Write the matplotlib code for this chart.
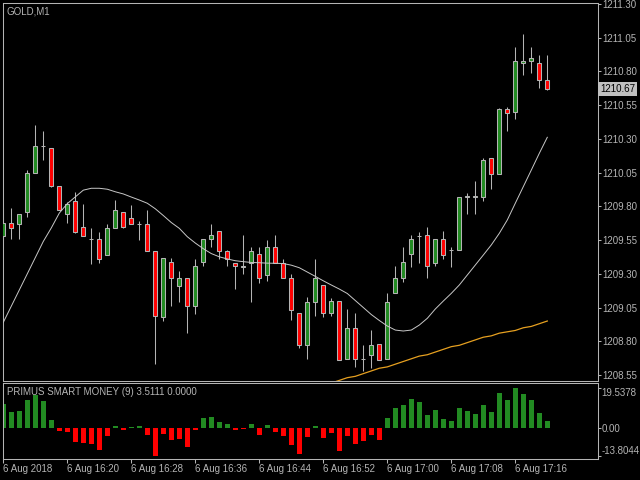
import numpy as np
import matplotlib.pyplot as plt

plt.rcParams['font.family'] = ['Liberation Sans', 'DejaVu Sans']

# GOLD M1 bars, 6 Aug 2018 16:12 .. 17:20
opens = [1209.58, 1209.68, 1209.67, 1209.76, 1210.05, 1210.25, 1210.23, 1209.95, 1209.74, 1209.84,
         1209.65, 1209.56, 1209.56, 1209.44, 1209.64, 1209.76, 1209.71, 1209.67, 1209.67, 1209.47,
         1208.98, 1209.39, 1209.21, 1209.27, 1209.06, 1209.39, 1209.56, 1209.62, 1209.47, 1209.38,
         1209.35, 1209.38, 1209.45, 1209.29, 1209.50, 1209.38, 1209.27, 1209.01, 1208.77, 1209.09,
         1209.22, 1209.01, 1209.10, 1208.67, 1208.90, 1208.67, 1208.70, 1208.78, 1208.67, 1209.16,
         1209.27, 1209.45, 1209.58, 1209.59, 1209.38, 1209.56, 1209.48, 1209.48, 1209.87, 1209.87,
         1209.87, 1210.16, 1210.04, 1210.52, 1210.50, 1210.86, 1210.88, 1210.86, 1210.74]
highs = [1209.79, 1209.79, 1209.74, 1210.07, 1210.40, 1210.36, 1210.23, 1209.95, 1209.83, 1209.91,
         1209.82, 1209.64, 1209.61, 1209.67, 1209.85, 1209.76, 1209.81, 1209.69, 1209.77, 1209.47,
         1209.42, 1209.42, 1209.32, 1209.27, 1209.41, 1209.56, 1209.67, 1209.62, 1209.48, 1209.38,
         1209.59, 1209.50, 1209.50, 1209.55, 1209.59, 1209.41, 1209.30, 1209.01, 1209.13, 1209.41,
         1209.22, 1209.12, 1209.10, 1209.04, 1209.01, 1208.77, 1208.88, 1208.78, 1209.16, 1209.36,
         1209.50, 1209.59, 1209.61, 1209.65, 1209.56, 1209.62, 1209.50, 1209.87, 1209.90, 1209.99,
         1210.16, 1210.16, 1210.53, 1210.54, 1210.98, 1211.08, 1210.98, 1210.92, 1210.92]
lows = [1209.55, 1209.56, 1209.56, 1209.72, 1210.05, 1210.14, 1209.94, 1209.77, 1209.68, 1209.60,
        1209.58, 1209.37, 1209.38, 1209.44, 1209.64, 1209.64, 1209.67, 1209.55, 1209.47, 1208.63,
        1208.95, 1209.06, 1209.09, 1208.86, 1209.00, 1209.36, 1209.50, 1209.41, 1209.36, 1209.19,
        1209.30, 1209.09, 1209.23, 1209.25, 1209.38, 1209.27, 1208.96, 1208.75, 1208.67, 1208.99,
        1208.98, 1208.99, 1208.66, 1208.67, 1208.61, 1208.58, 1208.60, 1208.66, 1208.67, 1209.16,
        1209.24, 1209.35, 1209.38, 1209.27, 1209.36, 1209.41, 1209.35, 1209.48, 1209.74, 1209.74,
        1209.84, 1209.93, 1210.04, 1210.36, 1210.45, 1210.77, 1210.79, 1210.68, 1210.66]
closes = [1209.68, 1209.64, 1209.74, 1210.05, 1210.25, 1210.25, 1209.95, 1209.77, 1209.82, 1209.61,
          1209.58, 1209.56, 1209.41, 1209.64, 1209.77, 1209.65, 1209.67, 1209.67, 1209.47, 1208.99,
          1209.42, 1209.27, 1209.27, 1209.06, 1209.36, 1209.56, 1209.59, 1209.47, 1209.41, 1209.36,
          1209.36, 1209.47, 1209.27, 1209.50, 1209.38, 1209.27, 1209.03, 1208.77, 1209.09, 1209.27,
          1209.01, 1209.10, 1208.66, 1208.90, 1208.67, 1208.67, 1208.77, 1208.66, 1209.09, 1209.27,
          1209.39, 1209.56, 1209.58, 1209.36, 1209.56, 1209.44, 1209.48, 1209.87, 1209.88, 1209.88,
          1210.14, 1210.04, 1210.52, 1210.49, 1210.88, 1210.88, 1210.90, 1210.74, 1210.67]

# moving averages as shown on the chart
ma_fast = [1208.94, 1209.06, 1209.18, 1209.30, 1209.42, 1209.54, 1209.64, 1209.75, 1209.82, 1209.87,
           1209.92, 1209.934, 1209.934, 1209.927, 1209.908, 1209.892, 1209.869, 1209.847, 1209.823, 1209.782,
           1209.732, 1209.680, 1209.637, 1209.575, 1209.528, 1209.486, 1209.450, 1209.426, 1209.410, 1209.397,
           1209.390, 1209.384, 1209.382, 1209.379, 1209.378, 1209.376, 1209.364, 1209.345, 1209.313, 1209.281,
           1209.248, 1209.217, 1209.187, 1209.154, 1209.102, 1209.050, 1208.998, 1208.954, 1208.913, 1208.883,
           1208.876, 1208.883, 1208.920, 1208.970, 1209.039, 1209.098, 1209.155, 1209.217, 1209.291, 1209.365,
           1209.439, 1209.514, 1209.600, 1209.699, 1209.823, 1209.946, 1210.069, 1210.193, 1210.312]
slow_start = 41
ma_slow = [1208.49, 1208.51, 1208.53, 1208.54, 1208.56, 1208.58, 1208.60, 1208.61, 1208.63, 1208.65,
           1208.67, 1208.69, 1208.70, 1208.72, 1208.74, 1208.76, 1208.77, 1208.79, 1208.81, 1208.83,
           1208.84, 1208.86, 1208.87, 1208.88, 1208.90, 1208.91, 1208.93, 1208.95]

# PRIMUS SMART MONEY (9)
smart_money = [11.6, 7.7, 8.2, 13.6, 15.8, 13.2, 3.8, -1.6, -2.1, -7.0,
               -7.5, -7.8, -10.9, -4.1, 1.0, -1.1, 0.3, 0.8, -3.6, -13.8044,
               -3.1, -6.0, -5.6, -9.5, -1.1, 4.9, 5.2, 2.8, 1.8, -1.0,
               -0.7, 1.8, -3.6, 1.3, -2.1, -4.1, -8.5, -12.7, -4.6, 0.8,
               -4.9, -2.5, -11.3, -3.9, -7.8, -6.5, -3.4, -6.0, 4.7, 9.6,
               11.1, 14.1, 12.6, 6.2, 8.7, 4.2, 3.3, 9.6, 8.2, 6.7,
               11.1, 7.7, 17.0, 13.6, 19.5378, 16.5, 13.6, 7.2, 3.5111]

price_ticks = [1211.30, 1211.05, 1210.80, 1210.55, 1210.30, 1210.05,
               1209.80, 1209.55, 1209.30, 1209.05, 1208.80, 1208.55]
time_pos = [0, 8, 16, 24, 32, 40, 48, 56, 64]
time_labels = ['6 Aug 2018', '6 Aug 16:20', '6 Aug 16:28', '6 Aug 16:36', '6 Aug 16:44',
               '6 Aug 16:52', '6 Aug 17:00', '6 Aug 17:08', '6 Aug 17:16']
last_price = 1210.67

fg = '#b4b4b4'
green = '#228b22'
red = '#ff0000'

o = np.array(opens)
c = np.array(closes)
x = np.arange(len(o))
up = c >= o

fig = plt.figure(figsize=(6.4, 4.8), dpi=100, facecolor='black')
ax = fig.add_axes([2.7/640, 1 - 380.7/480, 595/640, 378/480], facecolor='black')
ax2 = fig.add_axes([2.7/640, 1 - 459/480, 595/640, 75.7/480], facecolor='black')

# candles
ax.vlines(x, lows, highs, color=fg, lw=0.75, zorder=2)
ax.bar(x, np.abs(c - o), bottom=np.minimum(o, c), width=0.5,
       color=[green if u else red for u in up], edgecolor=fg, linewidth=0.75, zorder=3)
ax.plot(x, ma_fast, color='#c8c8c8', lw=0.7, zorder=4)
ax.plot(x[slow_start:], ma_slow, color='#e6a020', lw=0.9, zorder=4)

ax.set_xlim(-0.075, 74.3)
ax.set_ylim(1208.5076, 1211.3096)
ax.set_xticks([])
ax.yaxis.tick_right()
ax.set_yticks(price_ticks)
ax.set_yticklabels([f'{p:.2f}' for p in price_ticks])
ax.tick_params(axis='y', colors=fg, labelcolor=fg, length=2, width=0.75, pad=1, labelsize=7)
ax.annotate(f'{last_price:.2f}', xy=(1.0, last_price), xycoords=('axes fraction', 'data'),
            xytext=(1.6, 0), textcoords='offset points', va='center', ha='left', fontsize=7,
            color='black', bbox=dict(boxstyle='square,pad=0.18', fc='#c0c0c0', ec='none'))
ax.text(0.007, 0.977, 'GOLD,M1', transform=ax.transAxes, color=fg, fontsize=7, va='center')

# indicator pane
sm = np.array(smart_money)
ax2.bar(x, sm, width=0.6, color=[green if v >= 0 else red for v in sm])
ax2.set_xlim(-0.075, 74.3)
ax2.set_ylim(-15.34, 21.76)
ax2.yaxis.tick_right()
ax2.set_yticks([19.5378, 0, -13.8044])
ax2.set_yticklabels(['19.5378', '0.00', '-13.8044'])
ax2.get_yticklabels()[0].set_va('top')
ax2.get_yticklabels()[2].set_va('bottom')
ax2.tick_params(axis='y', colors=fg, labelcolor=fg, length=2, width=0.75, pad=0.8, labelsize=7)
ax2.set_xticks(time_pos)
ax2.set_xticklabels(time_labels, ha='left')
ax2.tick_params(axis='x', colors=fg, labelcolor=fg, length=3, width=0.75, pad=0.5, labelsize=7)
ax2.text(0.007, 0.88, 'PRIMUS SMART MONEY (9) 3.5111 0.0000', transform=ax2.transAxes,
         color=fg, fontsize=7, va='center')

for a in (ax, ax2):
    for s in a.spines.values():
        s.set_color(fg)
        s.set_linewidth(0.75)

fig.savefig('out.png', dpi=100, facecolor='black')
